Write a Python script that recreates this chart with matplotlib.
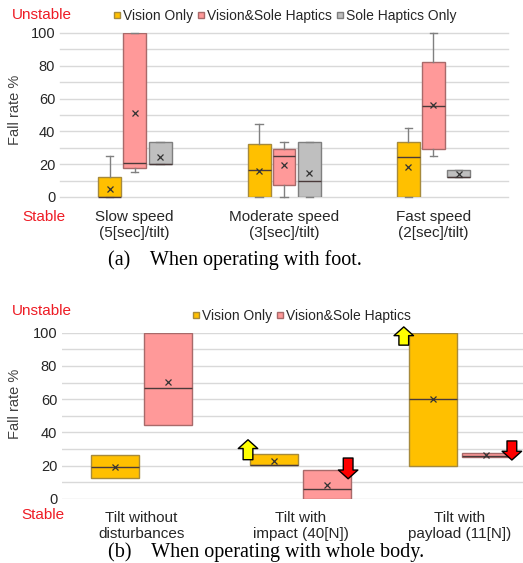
import matplotlib
matplotlib.use("Agg")
import matplotlib.pyplot as plt
from matplotlib.lines import Line2D
from matplotlib.patches import FancyArrowPatch

plt.rcParams['font.family'] = ['Liberation Sans', 'DejaVu Sans']

# ---- data: (a) operating with foot ----
foot_cats = ["Slow speed\n(5[sec]/tilt)", "Moderate speed\n(3[sec]/tilt)", "Fast speed\n(2[sec]/tilt)"]
foot_series = ["Vision Only", "Vision&Sole Haptics", "Sole Haptics Only"]
foot_whislo = [[0, 0, 0], [15.2, 0, 25.2], [20, 0, 12.4]]
foot_q1 = [[0, 0, 0], [17.4, 7.1, 29.4], [20, 0, 12.4]]
foot_med = [[0, 16.4, 24.3], [20.9, 24.9, 55.6], [20, 9.9, 12.4]]
foot_q3 = [[12.5, 32.3, 33.3], [100, 29.2, 82.6], [33.3, 33.3, 16.4]]
foot_whishi = [[25, 44.6, 42], [100, 33.3, 100], [33.3, 33.3, 16.4]]
foot_mean = [[5, 16, 18.3], [51.1, 19.5, 55.8], [24.3, 14.4, 14.2]]

# ---- data: (b) operating with whole body ----
body_cats = ["Tilt without\ndisturbances", "Tilt with\nimpact (40[N])", "Tilt with\npayload (11[N])"]
body_series = ["Vision Only", "Vision&Sole Haptics"]
body_q1 = [[12.3, 20.5, 20], [44.6, 0, 25]]
body_med = [[18.9, 20.5, 60], [66.8, 6, 26]]
body_q3 = [[26.1, 26.7, 100], [100, 17.1, 27.4]]
body_mean = [[18.9, 22.5, 60], [70.4, 8.1, 26.2]]

# arrows (x in category units, y from -> to)
up_arrows = [(0.67, 23.5, 35.5), (1.65, 92.5, 103.5)]
down_arrows = [(1.30, 24.5, 12.0), (2.33, 34.8, 23.3)]

face = ['#FFC000', '#FF9999', '#BFBFBF']
edge = ['#A68A3C', '#A86A6A', '#7F7F7F']
grid_c = '#D9D9D9'
txt_c = '#262626'
red_c = '#EE1C25'
arrow_style = 'simple,head_length=0.45,head_width=1.0,tail_width=0.5'


def style_axes(ax):
    ax.set_ylim(0, 100)
    for v in range(0, 101, 10):
        ax.axhline(v, color=grid_c, lw=1, zorder=0)
    for s in ax.spines.values():
        s.set_visible(False)
    ax.tick_params(length=0, labelsize=10.5, labelcolor=txt_c)
    ax.set_yticks(range(0, 101, 20))


def draw_boxes(ax, k, pos, width, lo, q1, med, q3, hi, mean, caps=True):
    stats = []
    for i in range(len(pos)):
        stats.append(dict(whislo=lo[i], q1=q1[i], med=med[i], q3=q3[i],
                          whishi=hi[i], mean=mean[i], fliers=[]))
    ax.bxp(stats, positions=pos, widths=width, patch_artist=True,
           showmeans=True, showfliers=False, showcaps=caps, capwidths=0.05,
           boxprops=dict(facecolor=face[k], edgecolor=edge[k], lw=1),
           medianprops=dict(color='#4A3A3A', lw=1),
           whiskerprops=dict(color='#808080', lw=1),
           capprops=dict(color='#808080', lw=1),
           meanprops=dict(marker='x', markeredgecolor='#333333',
                          markersize=5, markeredgewidth=0.9),
           manage_ticks=False)


fig = plt.figure(figsize=(5.23, 5.63), dpi=100)

# ---- panel (a) ----
ax1 = fig.add_axes([60/523, 1-197/563, 448/523, 164/563])
style_axes(ax1)
offs = [-0.167, 0.0, 0.17]
for k in range(3):
    pos = [i + offs[k] for i in range(3)]
    draw_boxes(ax1, k, pos, 0.154, foot_whislo[k], foot_q1[k], foot_med[k],
               foot_q3[k], foot_whishi[k], foot_mean[k])
for c in ax1.get_children():
    if isinstance(c, Line2D):
        c.set_clip_on(False)
ax1.set_xlim(-0.5, 2.5)
ax1.set_xticks(range(3))
ax1.set_xticklabels(foot_cats, fontsize=11, color=txt_c)
ax1.tick_params(axis='x', pad=9)

h1 = [Line2D([], [], ls='none', marker='s', markersize=5, markerfacecolor=face[k],
             markeredgecolor=edge[k]) for k in range(3)]
fig.legend(h1, foot_series, loc='center', bbox_to_anchor=(285/523, 1-16/563),
           ncol=3, frameon=False, fontsize=10, handlelength=0.5, handletextpad=0.2,
           columnspacing=0.3, labelcolor=txt_c)

fig.text(42/523, 1-15/563, "Unstable", color=red_c, fontsize=11, ha='center', va='center')
fig.text(44/523, 1-217/563, "Stable", color=red_c, fontsize=11, ha='center', va='center')
fig.text(15/523, 1-110/563, "Fall rate %", rotation=90, fontsize=10.5, color='#404040',
         ha='center', va='center')
fig.text(235/523, 1-260/563, "(a)    When operating with foot.", family='Liberation Serif',
         fontsize=14.5, ha='center', va='center')

# ---- panel (b) ----
ax2 = fig.add_axes([62/523, 1-498.7/563, 461/523, 166/563])
style_axes(ax2)
offs2 = [-0.167, 0.167]
for k in range(2):
    pos = [i + offs2[k] for i in range(3)]
    draw_boxes(ax2, k, pos, 0.30, body_q1[k], body_q1[k], body_med[k],
               body_q3[k], body_q3[k], body_mean[k], caps=False)
ax2.set_xlim(-0.5, 2.4)
ax2.set_xticks(range(3))
ax2.set_xticklabels(body_cats, fontsize=11, color=txt_c)
ax2.tick_params(axis='x', pad=9)

for x, y0, y1 in up_arrows:
    ax2.add_patch(FancyArrowPatch((x, y0), (x, y1), arrowstyle=arrow_style,
                                  mutation_scale=14, fc='#FFFF00', ec='black', lw=1,
                                  shrinkA=0, shrinkB=0, clip_on=False, zorder=5))
for x, y0, y1 in down_arrows:
    ax2.add_patch(FancyArrowPatch((x, y0), (x, y1), arrowstyle=arrow_style,
                                  mutation_scale=14, fc='#FF0000', ec='black', lw=1,
                                  shrinkA=0, shrinkB=0, clip_on=False, zorder=5))

h2 = [Line2D([], [], ls='none', marker='s', markersize=5, markerfacecolor=face[k],
             markeredgecolor=edge[k]) for k in range(2)]
fig.legend(h2, body_series, loc='center', bbox_to_anchor=(302/523, 1-316/563),
           ncol=2, frameon=False, fontsize=10, handlelength=0.5, handletextpad=0.2,
           columnspacing=0.3, labelcolor=txt_c)

fig.text(42/523, 1-311/563, "Unstable", color=red_c, fontsize=11, ha='center', va='center')
fig.text(43/523, 1-515/563, "Stable", color=red_c, fontsize=11, ha='center', va='center')
fig.text(15/523, 1-404/563, "Fall rate %", rotation=90, fontsize=10.5, color='#404040',
         ha='center', va='center')
fig.text(266/523, 1-552/563, "(b)    When operating with whole body.", family='Liberation Serif',
         fontsize=14.5, ha='center', va='center')

fig.savefig("out.png", dpi=100)
